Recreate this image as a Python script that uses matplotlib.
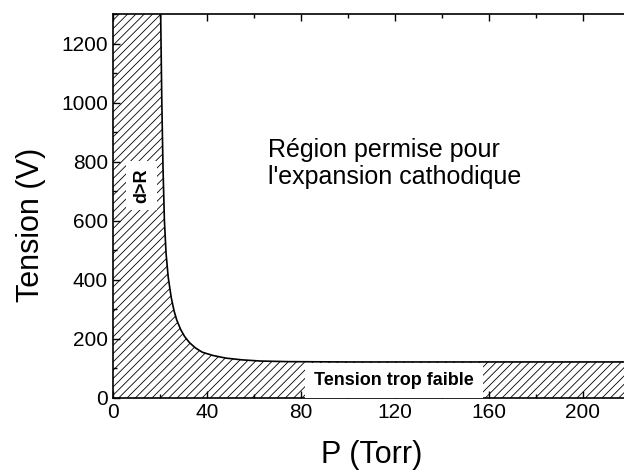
import numpy as np
import matplotlib.pyplot as plt
from matplotlib.ticker import MultipleLocator

plt.rcParams['font.family'] = ['Liberation Sans', 'DejaVu Sans']
plt.rcParams['hatch.linewidth'] = 0.6

# courbe limite
pression = [20.3, 20.8, 21.3, 21.9, 22.6, 23.5, 24.8, 26.0, 27.1, 28.8, 30.5,
            32.5, 35.0, 38.0, 42.5, 48.0, 55.0, 63.0, 75.0, 100.0, 150.0, 220.0]
tension = [1300, 1000, 780, 600, 490, 410, 340, 295, 265, 232, 208,
           188, 170, 155, 144, 135, 129, 125, 123, 122, 122, 122]

x_ticks = [0, 40, 80, 120, 160, 200]
y_ticks = [0, 200, 400, 600, 800, 1000, 1200]

fig = plt.figure(figsize=(6.24, 4.73), dpi=100)
ax = fig.add_axes([0.181, 0.1586, 1.0096 - 0.181, 0.9704 - 0.1586])

# zone interdite hachurée
x_fill = [0] + pression
y_fill = [1300] + tension
ax.fill_between(x_fill, 0, y_fill, facecolor='white', edgecolor='black',
                hatch='////', linewidth=0)
ax.plot(pression, tension, color='black', lw=1.2)

ax.set_xlim(0, 220)
ax.set_ylim(0, 1300)
ax.set_xticks(x_ticks)
ax.set_yticks(y_ticks)
ax.xaxis.set_minor_locator(MultipleLocator(20))
ax.yaxis.set_minor_locator(MultipleLocator(100))
ax.tick_params(which='both', direction='in', top=True, right=False,
               labelsize=15, width=1)
ax.tick_params(which='major', length=5)
ax.tick_params(which='minor', length=3)
ax.spines['right'].set_visible(False)
for s in ['left', 'bottom', 'top']:
    ax.spines[s].set_linewidth(1.2)

ax.set_xlabel('P (Torr)', fontsize=22)
ax.set_ylabel('Tension (V)', fontsize=22)
ax.xaxis.set_label_coords(0.5, -0.11)
ax.yaxis.set_label_coords(-0.13, 0.45)

ax.text(66, 795, "Région permise pour\nl'expansion cathodique", fontsize=18,
        va='center', ha='left', linespacing=1.15)
ax.text(12.2, 720, 'd>R', rotation=90, fontsize=13, fontweight='bold',
        ha='center', va='center',
        bbox=dict(facecolor='white', edgecolor='none', boxstyle='square,pad=0.4'))
ax.text(119.6, 60, 'Tension trop faible', fontsize=13, fontweight='bold',
        ha='center', va='center',
        bbox=dict(facecolor='white', edgecolor='none', boxstyle='square,pad=0.5'))

fig.savefig('out.png', dpi=100)
